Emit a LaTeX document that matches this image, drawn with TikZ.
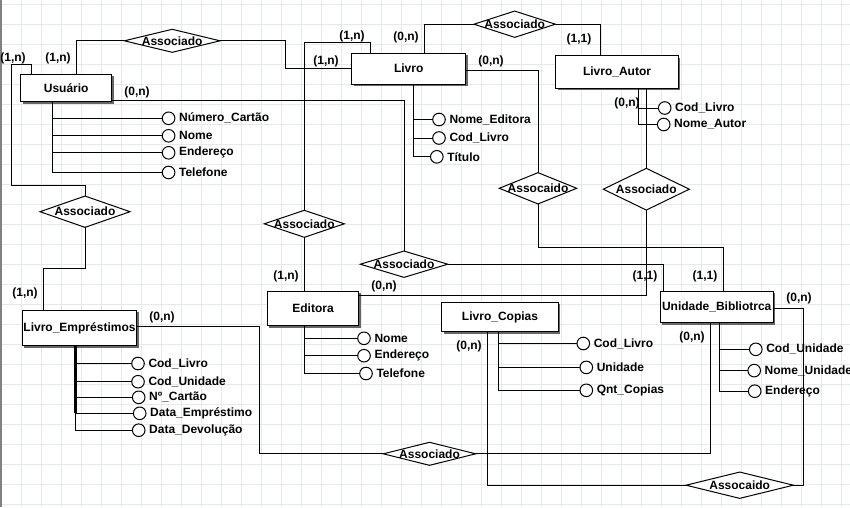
\documentclass[tikz,border=0pt]{standalone}
\usepackage{fontspec}
\setmainfont{Liberation Sans}
\usetikzlibrary{shapes.geometric,shadows}
\definecolor{gridc}{RGB}{228,233,233}
\definecolor{edgec}{RGB}{128,128,128}
\begin{document}
\begin{tikzpicture}[x=1pt,y=-1pt,
  every node/.style={font=\fontsize{12}{13}\selectfont\bfseries},
  every label/.style={inner sep=1pt},
  label distance=3pt,
  ln/.style={draw=black,line width=1pt},
  entity/.style={draw,line width=1pt,fill=white,inner sep=0pt,
    drop shadow={shadow xshift=2pt,shadow yshift=-2pt,fill=black!60,opacity=1}},
  rel/.style={diamond,draw,line width=1pt,fill=white,inner sep=0pt,outer sep=0pt},
  attr/.style={circle,draw,line width=1pt,fill=white,minimum size=12.6pt,inner sep=0pt,outer sep=0pt},
  card/.style={inner sep=0pt}
]
\useasboundingbox (0,0) rectangle (850,507);
% background grid
\fill[white] (0,0) rectangle (850,507);
\foreach \x in {1.7,21.7,...,841.7} \draw[gridc,line width=0.8pt] (\x,0) -- (\x,507);
\foreach \y in {4,24,...,504} \draw[gridc,line width=0.8pt] (0,\y) -- (850,\y);
\draw[edgec,line width=1.6pt] (0.8,0) -- (0.8,507);

% entities
\node[entity,minimum width=91pt,minimum height=27.4pt] (usu) at (66.2,88) {Usuário};
\node[entity,minimum width=114pt,minimum height=30.7pt] (livro) at (408.7,68.7) {Livro};
\node[entity,minimum width=122.6pt,minimum height=32.6pt] (autor) at (617,72) {Livro\_Autor};
\node[entity,minimum width=114.4pt,minimum height=35.4pt] (empr) at (79.5,328) {Livro\_Empréstimos};
\node[entity,minimum width=91.4pt,minimum height=34.4pt] (edit) at (313,308.5) {Editora};
\node[entity,minimum width=116.6pt,minimum height=29.4pt] (copias) at (500,317) {Livro\_Copias};
\node[entity,minimum width=113.3pt,minimum height=31.4pt] (unid) at (716.7,307) {Unidade\_Bibliotrca};

% relationships
\node[rel,minimum width=95.7pt,minimum height=23pt,label={[label distance=0pt]center:Associado}] (d1) at (172.2,40.8) {};
\node[rel,minimum width=81.3pt,minimum height=26.3pt,label={[label distance=0pt]center:Associado}] (d2) at (514.7,24.2) {};
\node[rel,minimum width=77.4pt,minimum height=31.3pt,label={[label distance=0pt]center:Assocaido}] (d3) at (538,188.3) {};
\node[rel,minimum width=86pt,minimum height=41.7pt,label={[label distance=0pt]center:Associado}] (d4) at (646.3,189.2) {};
\node[rel,minimum width=90pt,minimum height=31.3pt,label={[label distance=0pt]center:Associado}] (d5) at (85,211.7) {};
\node[rel,minimum width=80pt,minimum height=27pt,label={[label distance=0pt]center:Associado}] (d6) at (304.3,223.8) {};
\node[rel,minimum width=87.4pt,minimum height=26.3pt,label={[label distance=0pt]center:Associado}] (d7) at (404,264.2) {};
\node[rel,minimum width=92.4pt,minimum height=23pt,label={[label distance=0pt]center:Associado}] (d8) at (429.5,453.8) {};
\node[rel,minimum width=107.3pt,minimum height=26.3pt,label={[label distance=0pt]center:Assocaido}] (d9) at (739.7,485.2) {};

% attributes of Usuário
\node[attr,label=right:Número\_Cartão] (u1) at (168.6,118.3) {};
\node[attr,label=right:Nome] (u2) at (168.6,135.8) {};
\node[attr,label=right:Endereço] (u3) at (168.6,152.8) {};
\node[attr,label=right:Telefone] (u4) at (168.6,172.5) {};
% attributes of Livro
\node[attr,label=right:Nome\_Editora] (l1) at (439,119.5) {};
\node[attr,label=right:Cod\_Livro] (l2) at (439,138) {};
\node[attr,label=right:Título] (l3) at (436.8,156.8) {};
% attributes of Livro_Autor
\node[attr,label=right:Cod\_Livro] (a1) at (664.7,108) {};
\node[attr,label=right:Nome\_Autor] (a2) at (663.7,124.5) {};
% attributes of Livro_Empréstimos
\node[attr,label=right:Cod\_Livro] (m1) at (138,363.5) {};
\node[attr,label=right:Cod\_Unidade] (m2) at (138,381.7) {};
\node[attr,label=right:Nº\_Cartão] (m3) at (138.7,397.3) {};
\node[attr,label=right:Data\_Empréstimo] (m4) at (139.7,413.3) {};
\node[attr,label=right:Data\_Devolução] (m5) at (138.7,430.2) {};
% attributes of Editora
\node[attr,label=right:Nome] (e1) at (364,338.3) {};
\node[attr,label=right:Endereço] (e2) at (364,355.7) {};
\node[attr,label=right:Telefone] (e3) at (366,373.5) {};
% attributes of Livro_Copias
\node[attr,label=right:Cod\_Livro] (p1) at (583.3,343.5) {};
\node[attr,label=right:Unidade] (p2) at (586.3,367.4) {};
\node[attr,label=right:Qnt\_Copias] (p3) at (586.3,390.3) {};
% attributes of Unidade_Bibliotrca
\node[attr,label=right:Cod\_Unidade] (b1) at (755.8,349.3) {};
\node[attr,label=right:Nome\_Unidade] (b2) at (754.2,370.6) {};
\node[attr,label=right:Endereço] (b3) at (754.7,391.2) {};

% cardinalities
\node[card] (c1) at (13,58) {(1,n)};
\node[card] (c2) at (58,58) {(1,n)};
\node[card] (c3) at (137,92) {(0,n)};
\node[card] (c4) at (352,36) {(1,n)};
\node[card] (c5) at (406,37) {(0,n)};
\node[card] (c6) at (326,61) {(1,n)};
\node[card] (c7) at (491,61) {(0,n)};
\node[card] (c8) at (579,39) {(1,1)};
\node[card] (c9) at (627,103) {(0,n)};
\node[card] (c10) at (25,293) {(1,n)};
\node[card] (c11) at (286,276) {(1,n)};
\node[card] (c12) at (384,286) {(0,n)};
\node[card] (c13) at (645,276) {(1,1)};
\node[card] (c14) at (705,276) {(1,1)};
\node[card] (c15) at (799,298) {(0,n)};
\node[card] (c16) at (162,317) {(0,n)};
\node[card] (c17) at (469,346) {(0,n)};
\node[card] (c18) at (692,337) {(0,n)};

% routing guides
\coordinate (g1) at (76.3,0);
\coordinate (g2) at (285.3,0);
\coordinate (g3) at (31.7,64.3);
\coordinate (g4) at (11,185.3);
\coordinate (g5) at (43.3,268.3);
\coordinate (g6) at (0,100.3);
\coordinate (g7) at (663.3,0);
\coordinate (g8) at (370,42.7);
\coordinate (g9) at (424,0);
\coordinate (g10) at (600.7,0);
\coordinate (g11) at (0,70.3);
\coordinate (g12) at (723.3,247.3);
\coordinate (g14) at (0,295.5);
\coordinate (g15) at (259.5,326);
\coordinate (g16) at (710,0);
\coordinate (g17) at (487.3,0);
\coordinate (g18) at (803.3,308.3);

% relationship connectors
\draw[ln] (usu.north -| g1) |- (d1.west);
\draw[ln] (d1.east) -| (g2 |- livro.west) -- (livro.west);
\draw[ln] (usu.north -| g3) -- (g3) -| (g4) -| (d5.north);
\draw[ln] (d5.south) |- (g5) -- (g5 |- empr.north);
\draw[ln] (usu.east |- g6) -| (d7.north);
\draw[ln] (d7.east) -| (g7 |- unid.north);
\draw[ln] (livro.north -| g8) -- (g8) -| (d6.north);
\draw[ln] (d6.south) -- (d6.south |- edit.north);
\draw[ln] (livro.north -| g9) |- (d2.west);
\draw[ln] (d2.east) -| (g10 |- autor.north);
\draw[ln] (livro.east |- g11) -| (d3.north);
\draw[ln] (d3.south) |- (g12) -- (g12 |- unid.north);
\draw[ln] (d4.north |- autor.south) -- (d4.north);
\draw[ln] (d4.south) -- (d4.south |- g14) -- (edit.east |- g14);
\draw[ln] (empr.east |- g15) -- (g15) |- (d8.west);
\draw[ln] (d8.east) -| (g16 |- unid.south);
\draw[ln] (copias.south -| g17) |- (d9.west);
\draw[ln] (d9.east) -| (g18) -- (unid.east |- g18);

% attribute connectors
\coordinate (ua) at (52.3,0);
\draw[ln] (usu.south -| ua) |- (u4.west);
\foreach \n in {u1,u2,u3} \draw[ln] (ua |- \n.west) -- (\n.west);
\coordinate (la) at (413.3,0);
\draw[ln] (livro.south -| la) |- (l3.west);
\foreach \n in {l1,l2} \draw[ln] (la |- \n.west) -- (\n.west);
\coordinate (aa) at (638.3,0);
\draw[ln] (autor.south -| aa) |- (a2.west);
\draw[ln] (aa |- a1.west) -- (a1.west);
\coordinate (ma) at (75.9,0);
\coordinate (mb) at (75.4,413.3);
\draw[line width=2.4pt] (empr.south -| mb) -- (mb);
\draw[ln] (empr.south -| ma) |- (m5.west);
\foreach \n in {m1,m2,m3,m4} \draw[ln] (ma |- \n.west) -- (\n.west);
\coordinate (ea) at (304.3,0);
\draw[ln] (edit.south -| ea) |- (e3.west);
\foreach \n in {e1,e2} \draw[ln] (ea |- \n.west) -- (\n.west);
\coordinate (pa) at (498.3,0);
\draw[ln] (copias.south -| pa) |- (p3.west);
\foreach \n in {p1,p2} \draw[ln] (pa |- \n.west) -- (\n.west);
\coordinate (ba) at (719.3,0);
\draw[ln] (unid.south -| ba) |- (b3.west);
\foreach \n in {b1,b2} \draw[ln] (ba |- \n.west) -- (\n.west);
\end{tikzpicture}
\end{document}
